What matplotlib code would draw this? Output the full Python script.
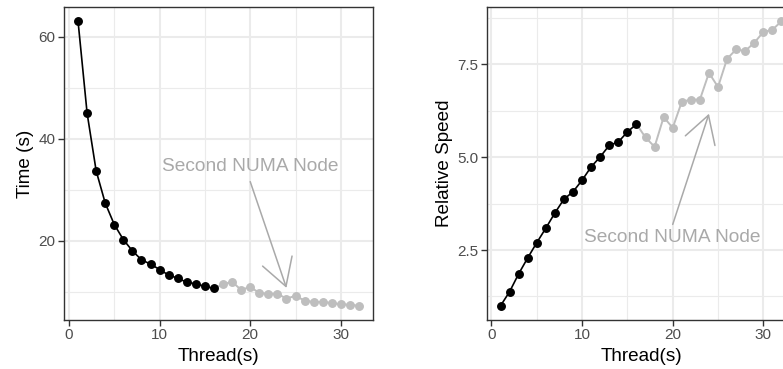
"""Thread scaling: run time and relative speed, with the second NUMA node marked."""

import matplotlib.pyplot as plt
import numpy as np
from matplotlib.ticker import MultipleLocator

plt.rcParams["font.family"] = ["Liberation Sans", "DejaVu Sans"]

threads = np.arange(1, 33)
time_s = [63.0, 45.0, 33.7, 27.4, 23.2, 20.25, 18.05, 16.3, 15.45, 14.4,
          13.3, 12.7, 11.9, 11.6, 11.1, 10.7, 11.5, 12.0, 10.4, 11.0,
          9.8, 9.65, 9.65, 8.7, 9.25, 8.3, 8.05, 8.05, 7.85, 7.6, 7.5, 7.3]
rel_speed = [1.0, 1.38, 1.86, 2.29, 2.70, 3.09, 3.50, 3.87, 4.07, 4.38,
             4.74, 5.01, 5.32, 5.41, 5.68, 5.89, 5.53, 5.28, 6.08, 5.79,
             6.49, 6.55, 6.55, 7.27, 6.89, 7.65, 7.90, 7.86, 8.08, 8.37, 8.43, 8.66]
first_node = 16  # threads 1..16 sit on the first NUMA node

label = "Second NUMA Node"
# (text x, text y, arrow start, arrow end) in data units
left_note = ((20, 34.6), (20, 31.6), (24, 10.8))
right_note = ((20, 2.85), (20, 3.19), (24, 6.17))

BLACK = "#000000"
LIGHT = "#BEBEBE"
NOTE = "#A9A9A9"
GRID = "#EBEBEB"
BORDER = "#333333"

W, H = 783, 369
fig = plt.figure(figsize=(W / 100, H / 100), dpi=100)
bottom, height = 1 - 320 / H, 313 / H
ax_time = fig.add_axes([64 / W, bottom, 309 / W, height])
ax_speed = fig.add_axes([486.5 / W, bottom, 309 / W, height])


def draw_panel(ax, values, ylabel, ymajor, note):
    values = np.asarray(values)
    ax.plot(threads[first_node - 1:], values[first_node - 1:], color=LIGHT, lw=1.4, zorder=3)
    ax.plot(threads[first_node:], values[first_node:], "o", color=LIGHT, ms=5.4, zorder=3)
    ax.plot(threads[:first_node], values[:first_node], "-o", color=BLACK, lw=1.2, ms=5.4, zorder=4)
    ax.margins(x=0.05, y=0.05)

    (tx, ty), start, end = note
    ax.text(tx, ty, label, color=NOTE, fontsize=13.8, ha="center", va="center")
    ax.annotate("", xy=end, xytext=start,
                arrowprops=dict(arrowstyle="->,head_length=1.93,head_width=1.12",
                                mutation_scale=10, color=NOTE, lw=1.1,
                                shrinkA=0, shrinkB=0))

    ax.xaxis.set_major_locator(MultipleLocator(10))
    ax.xaxis.set_minor_locator(MultipleLocator(5))
    ax.yaxis.set_major_locator(MultipleLocator(ymajor))
    ax.yaxis.set_minor_locator(MultipleLocator(ymajor / 2))
    ax.grid(True, which="major", color=GRID, lw=1.5, zorder=0)
    ax.grid(True, which="minor", color=GRID, lw=0.8, zorder=0)
    ax.set_axisbelow(True)
    for side in ax.spines.values():
        side.set_color(BORDER)
        side.set_linewidth(1.0)
    ax.tick_params(which="major", length=4, width=1.0, color=BORDER,
                   labelcolor="#4D4D4D", labelsize=11, pad=2)
    ax.tick_params(which="minor", length=0)
    ax.set_xlabel("Thread(s)", fontsize=13.6, labelpad=4)
    ax.set_ylabel(ylabel, fontsize=13.6, labelpad=3)


draw_panel(ax_time, time_s, "Time (s)", 20, left_note)
draw_panel(ax_speed, rel_speed, "Relative Speed", 2.5, right_note)
ax_speed.yaxis.set_major_formatter(lambda v, pos: f"{v:.1f}")

fig.savefig("out.png", dpi=100)
